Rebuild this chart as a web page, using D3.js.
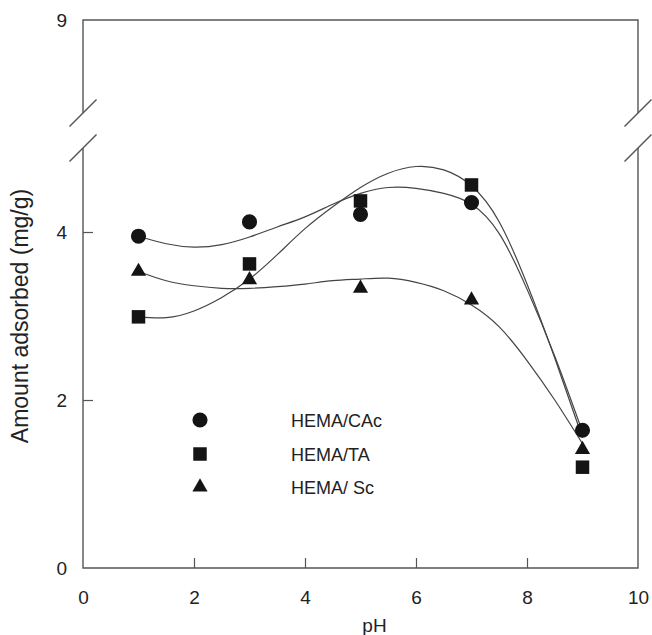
<!DOCTYPE html>
<html>
<head>
<meta charset="utf-8">
<script src="https://cdn.jsdelivr.net/npm/d3@7"></script>
<style>
  html, body { margin: 0; padding: 0; background: #fff; }
  svg { display: block; font-family: "Liberation Sans", Arial, Helvetica, sans-serif; }
</style>
</head>
<body>
<svg id="chart" width="652" height="635"></svg>
<script>
// Measured points: pH vs amount adsorbed (mg/g)
const pH = [1, 3, 5, 7, 9];
const cacValues = [3.95, 4.12, 4.21, 4.35, 1.64];   // HEMA/CAc
const taValues  = [2.99, 3.62, 4.37, 4.56, 1.20];   // HEMA/TA
const scValues  = [3.53, 3.43, 3.33, 3.19, 1.41];   // HEMA/ Sc

// Fitted trend lines, sampled along pH
const fitPH  = [1, 1.5, 2, 2.5, 3, 3.5, 4, 4.5, 5, 5.5, 6, 6.5, 7, 7.5, 8, 8.5, 9];
const cacFit = [3.95, 3.86, 3.82, 3.85, 3.94, 4.06, 4.18, 4.33, 4.46, 4.53, 4.52, 4.46, 4.33, 3.98, 3.32, 2.52, 1.62];
const taFit  = [2.99, 2.98, 3.06, 3.22, 3.44, 3.73, 4.04, 4.30, 4.53, 4.70, 4.78, 4.74, 4.55, 4.12, 3.38, 2.50, 1.55];
const scFit  = [3.53, 3.42, 3.36, 3.33, 3.33, 3.35, 3.38, 3.42, 3.44, 3.45, 3.40, 3.30, 3.13, 2.87, 2.47, 2.00, 1.48];

const seriesNames = ["HEMA/CAc", "HEMA/TA", "HEMA/ Sc"];

// Axis settings
const xDomain = [0, 10];
const xTicks = [0, 2, 4, 6, 8, 10];
const yLowerDomain = [0, 5];      // below the axis break
const yUpperDomain = [7.9, 9];    // above the axis break
const yLowerTicks = [0, 2, 4];
const yUpperTicks = [9];
const xTitle = "pH";
const yTitle = "Amount adsorbed (mg/g)";

// Layout
const plotLeft = 83, plotRight = 638, plotTop = 20, plotBottom = 568;
const breakHigh = 113, breakLow = 148;
const frameColor = "#555";
const lineColor = "#444";
const markColor = "#141414";
const textColor = "#222";

const svg = d3.select("#chart");

const x = d3.scaleLinear().domain(xDomain).range([plotLeft, plotRight]);
const yLow = d3.scaleLinear().domain(yLowerDomain).range([plotBottom, breakLow]);
const yHigh = d3.scaleLinear().domain(yUpperDomain).range([breakHigh, plotTop]);

// Frame with broken vertical sides
const frame = svg.append("g")
  .attr("fill", "none")
  .attr("stroke", frameColor)
  .attr("stroke-width", 1.4);

frame.append("path").attr("d",
  `M${plotLeft},${breakLow} L${plotLeft},${plotBottom} L${plotRight},${plotBottom} L${plotRight},${breakLow}`);
frame.append("path").attr("d",
  `M${plotLeft},${breakHigh} L${plotLeft},${plotTop} L${plotRight},${plotTop} L${plotRight},${breakHigh}`);

// Break marks on both sides
const bk = 13.5;
[plotLeft, plotRight].forEach(cx => {
  [breakHigh, breakLow].forEach(cy => {
    frame.append("line")
      .attr("x1", cx - bk).attr("y1", cy + bk)
      .attr("x2", cx + bk).attr("y2", cy - bk);
  });
});

// Axes (ticks point inward)
function styleAxis(g) {
  g.select(".domain").remove();
  g.selectAll(".tick line").attr("stroke", frameColor).attr("stroke-width", 1.2);
  g.selectAll(".tick text").attr("fill", textColor).attr("font-size", 19)
    .attr("font-family", "'Liberation Sans', Arial, sans-serif");
}

svg.append("g")
  .attr("transform", `translate(0,${plotBottom})`)
  .call(d3.axisBottom(x).tickValues(xTicks).tickFormat(d3.format("d")).tickSizeInner(-10).tickSizeOuter(0).tickPadding(23))
  .call(styleAxis)
  .call(g => g.selectAll(".tick line").filter(d => d === xDomain[0] || d === xDomain[1]).remove());

svg.append("g")
  .attr("transform", `translate(${plotLeft},0)`)
  .call(d3.axisLeft(yLow).tickValues(yLowerTicks).tickFormat(d3.format("d")).tickSizeInner(-10).tickSizeOuter(0).tickPadding(16))
  .call(styleAxis)
  .call(g => g.selectAll(".tick line").filter(d => d === 0).remove());

svg.append("g")
  .attr("transform", `translate(${plotLeft},0)`)
  .call(d3.axisLeft(yHigh).tickValues(yUpperTicks).tickFormat(d3.format("d")).tickSizeInner(0).tickSizeOuter(0).tickPadding(16))
  .call(styleAxis);

// Axis titles
svg.append("text")
  .attr("x", (plotLeft + plotRight) / 2 + 14)
  .attr("y", 632)
  .attr("text-anchor", "middle")
  .attr("font-size", 19)
  .attr("fill", textColor)
  .text(xTitle);

svg.append("text")
  .attr("transform", `translate(28,316) rotate(-90)`)
  .attr("text-anchor", "middle")
  .attr("font-size", 23)
  .attr("fill", textColor)
  .text(yTitle);

// Fitted curves
const line = d3.line()
  .x((d, i) => x(fitPH[i]))
  .y(d => yLow(d))
  .curve(d3.curveNatural);

[cacFit, taFit, scFit].forEach(f => {
  svg.append("path")
    .attr("d", line(f))
    .attr("fill", "none")
    .attr("stroke", lineColor)
    .attr("stroke-width", 1.2);
});

// Markers
const shapes = [
  d3.symbol().type(d3.symbolCircle).size(180),
  d3.symbol().type(d3.symbolSquare).size(182),
  d3.symbol().type(d3.symbolTriangle).size(100)
];
const allValues = [cacValues, taValues, scValues];

allValues.forEach((vals, s) => {
  svg.append("g").selectAll("path")
    .data(vals)
    .join("path")
    .attr("transform", (d, i) => `translate(${x(pH[i])},${yLow(d)})`)
    .attr("d", shapes[s]())
    .attr("fill", markColor);
});

// Legend
const legend = svg.append("g");
const legendY = [420, 454, 487];
seriesNames.forEach((name, s) => {
  legend.append("path")
    .attr("transform", `translate(200,${legendY[s]})`)
    .attr("d", shapes[s]())
    .attr("fill", markColor);
  legend.append("text")
    .attr("x", 291)
    .attr("y", legendY[s] + 7)
    .attr("font-size", 18)
    .attr("fill", textColor)
    .text(name);
});
</script>
</body>
</html>
